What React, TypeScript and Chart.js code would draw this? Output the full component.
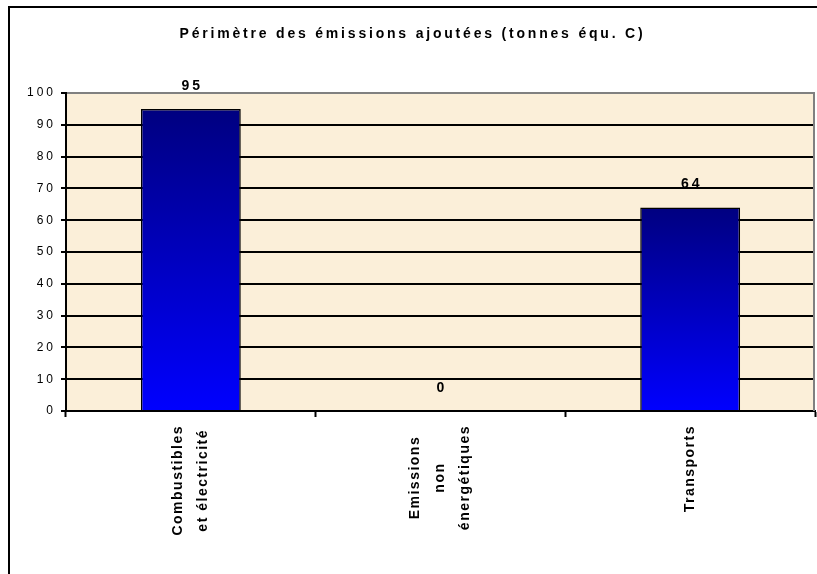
import React, { useEffect, useRef } from "react";
import { Chart, registerables } from "chart.js";

Chart.register(...registerables);

// ---- data ----
const chartTitle = "Périmètre des émissions ajoutées (tonnes équ. C)";
const categories: string[][] = [
  ["Combustibles", "et électricité"],
  ["Emissions", "non", "énergétiques"],
  ["Transports"],
];
const values: number[] = [95, 0, 64];
const yMin = 0;
const yMax = 100;
const yStep = 10;

const FONT = '"Liberation Sans", Arial, Helvetica, sans-serif';

const decorPlugin = {
  id: "decor",
  beforeDraw(chart: any) {
    const { ctx, chartArea: a } = chart;
    ctx.save();
    ctx.fillStyle = "#FBEFD9";
    ctx.fillRect(a.left, a.top, a.right - a.left, a.bottom - a.top);
    ctx.restore();
    ctx.letterSpacing = "3px";
  },
  beforeDatasetsDraw(chart: any) {
    const { ctx, chartArea: a } = chart;
    ctx.save();
    ctx.strokeStyle = "#808080";
    ctx.lineWidth = 2;
    ctx.beginPath();
    ctx.moveTo(a.right - 1, a.top);
    ctx.lineTo(a.right - 1, a.bottom);
    ctx.stroke();
    ctx.restore();
  },
  afterDatasetsDraw(chart: any) {
    const { ctx, chartArea: a } = chart;
    const xs = chart.scales.x;
    const ys = chart.scales.y;
    ctx.save();
    // value labels
    ctx.letterSpacing = "3px";
    ctx.font = `bold 14px ${FONT}`;
    ctx.fillStyle = "#000";
    ctx.textAlign = "center";
    ctx.textBaseline = "middle";
    values.forEach((v, i) => {
      const x = xs.getPixelForValue(i) + 1.5;
      const y = ys.getPixelForValue(v) - 23;
      ctx.fillText(String(v), x, y);
    });
    // category labels (rotated, centered lines)
    ctx.letterSpacing = "1.5px";
    ctx.font = `bold 14px ${FONT}`;
    const pitch = 25;
    categories.forEach((lines, i) => {
      const cx = xs.getPixelForValue(i);
      const maxW = Math.max(...lines.map((l) => ctx.measureText(l).width));
      const cy = a.bottom + 15 + maxW / 2;
      lines.forEach((line, j) => {
        const lx = cx + (j - (lines.length - 1) / 2) * pitch;
        ctx.save();
        ctx.translate(lx, cy);
        ctx.rotate(-Math.PI / 2);
        ctx.fillText(line, 1, 0);
        ctx.restore();
      });
    });
    // title
    ctx.letterSpacing = "2.8px";
    ctx.font = `bold 14px ${FONT}`;
    ctx.fillText(chartTitle, chart.width / 2 + 4, 34);
    ctx.restore();
    ctx.letterSpacing = "0px";
  },
};

export default function App() {
  const canvasRef = useRef<HTMLCanvasElement | null>(null);

  useEffect(() => {
    const canvas = canvasRef.current;
    if (!canvas) return;
    const chart = new Chart(canvas, {
      type: "bar",
      data: {
        labels: categories as any,
        datasets: [
          {
            data: values,
            backgroundColor: (c: any) => {
              const ch = c.chart;
              if (!ch.chartArea || c.type !== "data") return "#0000ff";
              const ys = ch.scales.y;
              const v = typeof c.raw === "number" ? c.raw : 0;
              const top = ys.getPixelForValue(v);
              const bot = ys.getPixelForValue(0);
              if (bot - top < 1) return "#0000ff";
              const g = ch.ctx.createLinearGradient(0, top, 0, bot);
              g.addColorStop(0, "#000080");
              g.addColorStop(1, "#0000ff");
              return g;
            },
            borderColor: "#000",
            borderWidth: 1.5,
            barPercentage: 0.4,
            categoryPercentage: 1,
          },
        ],
      },
      options: {
        responsive: false,
        animation: false,
        devicePixelRatio: 1,
        layout: { padding: { top: 93, left: 8, right: 2, bottom: 0 } },
        plugins: {
          legend: { display: false },
          tooltip: { enabled: false },
          title: { display: false },
        },
        scales: {
          x: {
            offset: true,
            afterFit: (s: any) => {
              s.height = 163;
            },
            grid: {
              display: true,
              offset: true,
              drawOnChartArea: false,
              tickLength: 6,
              tickColor: "#000",
              tickWidth: 2,
            },
            border: { display: true, color: "#000", width: 2 },
            ticks: { display: false },
          },
          y: {
            min: yMin,
            max: yMax,
            afterFit: (s: any) => {
              s.width = 58;
            },
            grid: {
              color: (c: any) => (c.tick && c.tick.value === yMax ? "#808080" : "#000"),
              lineWidth: 2,
              tickLength: 5,
              tickColor: "#000",
              tickWidth: 2,
            },
            border: { display: true, color: "#000", width: 2 },
            ticks: {
              stepSize: yStep,
              padding: 5,
              color: "#000",
              font: { family: FONT, size: 12 },
            },
          },
        },
      },
      plugins: [decorPlugin],
    });
    return () => chart.destroy();
  }, []);

  return (
    <div
      style={{
        position: "fixed",
        left: 0,
        top: 0,
        width: 817,
        height: 574,
        overflow: "hidden",
        background: "#fff",
      }}
    >
      <div
        style={{
          position: "absolute",
          left: 8,
          top: 6,
          width: 1000,
          height: 1000,
          border: "2px solid #000",
        }}
      />
      <canvas
        ref={canvasRef}
        width={817}
        height={574}
        style={{ position: "absolute", left: 0, top: 0, width: 817, height: 574 }}
      />
    </div>
  );
}
